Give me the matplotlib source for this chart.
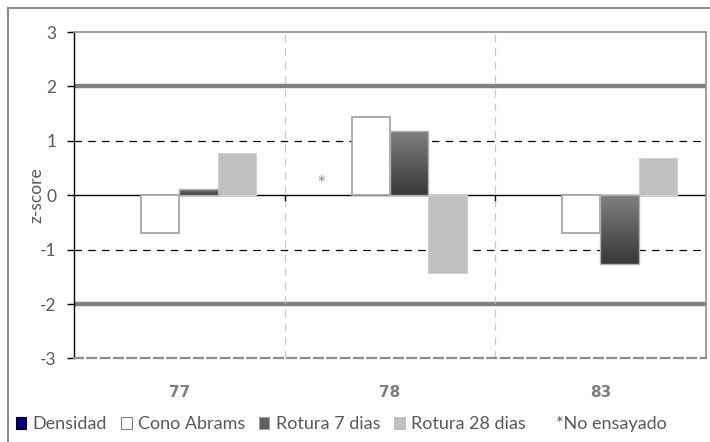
import numpy as np
import matplotlib
matplotlib.use("Agg")
from matplotlib import pyplot as plt
from matplotlib.patches import Rectangle

# z-score por muestra y ensayo
muestras = ["77", "78", "83"]
densidad = [np.nan, np.nan, np.nan]
cono_abrams = [-0.70, 1.43, -0.70]
rotura_7 = [0.11, 1.19, -1.26]
rotura_28 = [0.77, -1.42, 0.68]
no_ensayado = [False, True, False]   # densidad sin ensayar

plt.rcParams['font.family'] = ['Lato', 'DejaVu Sans']
plt.rcParams['axes.unicode_minus'] = False
gris_txt = '#595959'

fig = plt.figure(figsize=(7.1, 4.42), dpi=100)
ax = fig.add_axes([0.1045, 0.189, 0.8895, 0.7385])

x = np.arange(len(muestras))
w = 0.182

b_den = ax.bar(x - 1.5*w, densidad, w, color='#000080', edgecolor='black', linewidth=0.8, zorder=3)
b_con = ax.bar(x - 0.5*w, cono_abrams, w, color='white', edgecolor='#a6a6a6', linewidth=1.3, zorder=3)
b_r7 = ax.bar(x + 0.5*w, rotura_7, w, color='none', edgecolor='#b0b0b0', linewidth=1.0, zorder=4)
b_r28 = ax.bar(x + 1.5*w, rotura_28, w, color='#c0c0c0', edgecolor='#d0d0d0', linewidth=0.8, zorder=3)

# degradado vertical en las barras de rotura a 7 dias
grad = np.linspace(0, 1, 100).reshape(-1, 1)
cmap = matplotlib.colors.LinearSegmentedColormap.from_list('g', ['#383838', '#808080'])
for p in b_r7.patches:
    x0, y0 = p.get_x(), p.get_y()
    h = p.get_height()
    lo, hi = min(y0, y0 + h), max(y0, y0 + h)
    im = ax.imshow(grad, cmap=cmap, aspect='auto', origin='lower',
                   extent=[x0, x0 + p.get_width(), lo, hi], zorder=3)
    clip = Rectangle((x0, lo), p.get_width(), hi - lo, transform=ax.transData)
    im.set_clip_path(clip)

for i, ne in enumerate(no_ensayado):
    if ne:
        ax.text(x[i] - 1.5*w - 0.055, 0.24, '*', ha='center', va='center',
                fontsize=11, color='#8a8a8a', zorder=5, family='DejaVu Sans')

# lineas de referencia
ax.axhline(0, color='black', lw=1.0, zorder=2)
for v in (1, -1):
    ax.axhline(v, color='black', lw=0.9, ls=(0, (6, 5)), zorder=1)
for v in (2, -2):
    ax.axhline(v, color='#808080', lw=3.2, zorder=1)
for xb in x[:-1] + 0.5:
    ax.axvline(xb, color='#c8c8c8', lw=0.9, ls=(0, (6, 5)), zorder=1)
    ax.plot([xb, xb], [0, -0.08], color='black', lw=1.0, zorder=2)

ax.set_xlim(-0.5, len(muestras) - 0.5)
ax.set_ylim(-3, 3)
ax.set_yticks(np.arange(-3, 4))
ax.tick_params(axis='y', length=5, width=1, color='black', labelsize=12.5,
               labelcolor=gris_txt, pad=8)
ax.set_xticks(x)
ax.set_xticklabels(muestras, fontweight='bold', color='#7f7f7f', fontsize=11,
                   family='DejaVu Sans')
ax.tick_params(axis='x', length=0, pad=19)
ax.set_ylabel('z-score', color=gris_txt, fontsize=12.5, va='center')
ax.yaxis.set_label_coords(-0.06, 0.5)

ax.spines['left'].set_color('black')
ax.spines['left'].set_linewidth(1.0)
for s in ('top', 'right'):
    ax.spines[s].set_color('#8c8c8c')
    ax.spines[s].set_linewidth(1.2)
ax.spines['bottom'].set_color('#8c8c8c')
ax.spines['bottom'].set_linewidth(1.6)
ax.spines['bottom'].set_linestyle((0, (4, 2)))

# marco del grafico
fig.add_artist(plt.Line2D([0.0113, 0.0113], [0, 0.982], color='#8c8c8c', lw=1.5))
fig.add_artist(plt.Line2D([0.0113, 1.0], [0.982, 0.982], color='#8c8c8c', lw=1.5))

handles = [
    Rectangle((0, 0), 1, 1, facecolor='#000080', edgecolor='black', lw=0.8),
    Rectangle((0, 0), 1, 1, facecolor='white', edgecolor='#808080', lw=0.8),
    Rectangle((0, 0), 1, 1, facecolor='#606060', edgecolor='#a0a0a0', lw=0.8),
    Rectangle((0, 0), 1, 1, facecolor='#c0c0c0', edgecolor='#c0c0c0', lw=0.8),
    Rectangle((0, 0), 1, 1, facecolor='none', edgecolor='none'),
]
labels = ['Densidad', 'Cono Abrams', 'Rotura 7 dias', 'Rotura 28 dias', '*No ensayado']
leg = fig.legend(handles, labels, loc='center left', bbox_to_anchor=(0.022, 0.04),
                 ncol=5, frameon=False, fontsize=13, handlelength=0.6, handleheight=0.6,
                 handletextpad=0.35, columnspacing=0.75, borderpad=0, borderaxespad=0)
for t in leg.get_texts():
    t.set_color(gris_txt)

fig.savefig('out.png', dpi=100)
